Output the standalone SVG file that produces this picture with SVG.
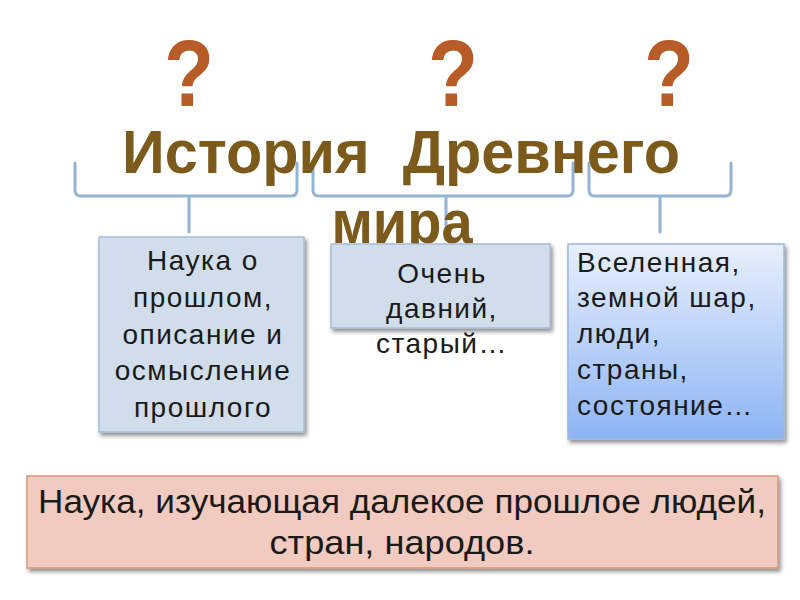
<svg xmlns="http://www.w3.org/2000/svg" width="800" height="600" viewBox="0 0 800 600">
<defs>
<filter id="sh" x="-10%" y="-10%" width="130%" height="130%">
<feGaussianBlur in="SourceAlpha" stdDeviation="2"/>
<feOffset dx="2" dy="3" result="b"/>
<feComponentTransfer><feFuncA type="linear" slope="0.45"/></feComponentTransfer>
<feMerge><feMergeNode/><feMergeNode in="SourceGraphic"/></feMerge>
</filter>
<linearGradient id="g3" x1="0" y1="0" x2="0" y2="1">
<stop offset="0" stop-color="#E8EFFC"/>
<stop offset="1" stop-color="#8DB4F4"/>
</linearGradient>
<style>
.q{font-family:"Liberation Sans",Arial,sans-serif;font-weight:bold;font-size:95px;fill:#B85C27;text-anchor:middle}
.t{font-family:"Liberation Sans",Arial,sans-serif;font-weight:bold;font-size:61px;fill:#7B5A1C;text-anchor:middle}
.br{fill:none;stroke:#94B4D4;stroke-width:3;stroke-linecap:round}
.bx{fill:#D1DDEA;stroke:#A8BCD5;stroke-width:1.5}
.tx{font-family:"Liberation Sans",Arial,sans-serif;font-size:28px;letter-spacing:1.5px;fill:#1a1a1a}
.c{text-anchor:middle}
</style>
</defs>
<rect width="800" height="600" fill="#FFFFFF"/>
<g id="questions">
<text class="q" x="189" y="106" textLength="50" lengthAdjust="spacingAndGlyphs">?</text>
<text class="q" x="453" y="106" textLength="50" lengthAdjust="spacingAndGlyphs">?</text>
<text class="q" x="669" y="106" textLength="50" lengthAdjust="spacingAndGlyphs">?</text>
</g>
<g id="connectors">
<path class="br" d="M75,163 V190 Q75,196 81,196 H291 Q297,196 297,190 V163 M189,196 V232"/>
<path class="br" d="M313,163 V190 Q313,196 319,196 H567 Q573,196 573,190 V163 M446,196 V232"/>
<path class="br" d="M589,163 V190 Q589,196 595,196 H725 Q731,196 731,190 V163 M660,196 V232"/>
</g>
<g id="title">
<text class="t" x="401" y="173" textLength="558" lengthAdjust="spacingAndGlyphs" style="white-space:pre">История  Древнего</text>
<text class="t" x="402" y="243" textLength="141" lengthAdjust="spacingAndGlyphs">мира</text>
</g>
<g id="node1">
<rect class="bx" x="99" y="237" width="205" height="195" filter="url(#sh)"/>
<text class="tx c"><tspan x="203" y="270">Наука о</tspan><tspan x="203" y="307">прошлом,</tspan><tspan x="203" y="344">описание и</tspan><tspan x="203" y="380">осмысление</tspan><tspan x="203" y="417">прошлого</tspan></text>
</g>
<g id="node2">
<rect class="bx" x="331" y="244" width="219" height="84" filter="url(#sh)"/>
<text class="tx c"><tspan x="442" y="283">Очень</tspan><tspan x="442" y="318">давний,</tspan><tspan x="442" y="353">старый…</tspan></text>
</g>
<g id="node3">
<rect x="568" y="244" width="216" height="195" fill="url(#g3)" stroke="#9DB8DE" stroke-width="1.5" filter="url(#sh)"/>
<text class="tx"><tspan x="577" y="272">Вселенная,</tspan><tspan x="577" y="307">земной шар,</tspan><tspan x="577" y="343">люди,</tspan><tspan x="577" y="379">страны,</tspan><tspan x="577" y="415">состояние…</tspan></text>
</g>
<g id="node4">
<rect x="27" y="476" width="751" height="92" fill="#F1CBBF" stroke="#D99679" stroke-width="1.5" filter="url(#sh)"/>
<text class="tx c" style="font-size:33px;letter-spacing:0"><tspan x="402" y="513" textLength="728" lengthAdjust="spacingAndGlyphs">Наука, изучающая далекое прошлое людей,</tspan><tspan x="402" y="554" textLength="265" lengthAdjust="spacingAndGlyphs">стран, народов.</tspan></text>
</g>
</svg>
